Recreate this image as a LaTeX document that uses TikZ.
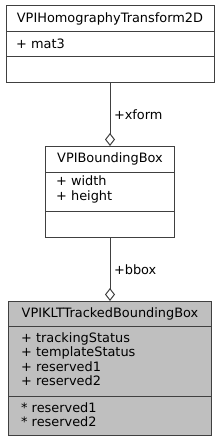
\documentclass[tikz,border=0pt]{standalone}
\usepackage{fontspec}
\setmainfont{DejaVu Sans}
\usetikzlibrary{arrows.meta}

\begin{document}
\begin{tikzpicture}[x=1pt,y=1pt,
    classbox/.style={draw=black!75, line width=1pt, anchor=north, inner sep=0pt},
    divider/.style={draw=black!75, line width=1pt},
    titletext/.style={inner sep=0pt, font=\fontsize{12.9}{14.5}\selectfont},
    membertext/.style={anchor=west, align=left, inner sep=0pt, font=\fontsize{12.9}{14.5}\selectfont},
    assoc/.style={draw=black!75, line width=1pt, {Diamond[open,length=13pt,width=10pt]}-}]
    \useasboundingbox (0,0) rectangle (221,-441);

    % VPIHomographyTransform2D
    \node[classbox, minimum width=208, minimum height=77] (homog) at (110,-5) {};
    \draw[divider] (6,-32) -- (214,-32);
    \draw[divider] (6,-57) -- (214,-57);
    \node[titletext] (homogname) at (110,-18.5) {VPIHomographyTransform2D};
    \node[membertext] (homogattr) at (16,-44) {+ mat3};

    % VPIBoundingBox
    \node[classbox, minimum width=129, minimum height=91] (bbox) at (110,-146) {};
    \draw[divider] (45.5,-172) -- (174.5,-172);
    \draw[divider] (45.5,-211) -- (174.5,-211);
    \node[titletext] (bboxname) at (110,-159) {VPIBoundingBox};
    \node[membertext] (bboxattr) at (56,-189.5) {+ width\\+ height};

    % VPIKLTTrackedBoundingBox
    \node[classbox, fill=black!25, minimum width=203, minimum height=134] (tracked) at (110,-301) {};
    \draw[divider] (8.5,-326) -- (211.5,-326);
    \draw[divider] (8.5,-396) -- (211.5,-396);
    \node[titletext] (trackedname) at (110,-313.5) {VPIKLTTrackedBoundingBox};
    \node[membertext] (trackedattr) at (21,-359)
        {+ trackingStatus\\+ templateStatus\\+ reserved1\\+ reserved2};
    \node[membertext] (trackedpriv) at (21,-414.5) {* reserved1\\* reserved2};

    % associations
    \draw[assoc] (bbox.north) -- node[right, inner sep=3.5pt] (xformlabel)
        {\fontsize{12.9}{14.5}\selectfont +xform} (homog.south);
    \draw[assoc] (tracked.north) -- node[right, inner sep=3.5pt] (bboxlabel)
        {\fontsize{12.9}{14.5}\selectfont +bbox} (bbox.south);
\end{tikzpicture}
\end{document}
